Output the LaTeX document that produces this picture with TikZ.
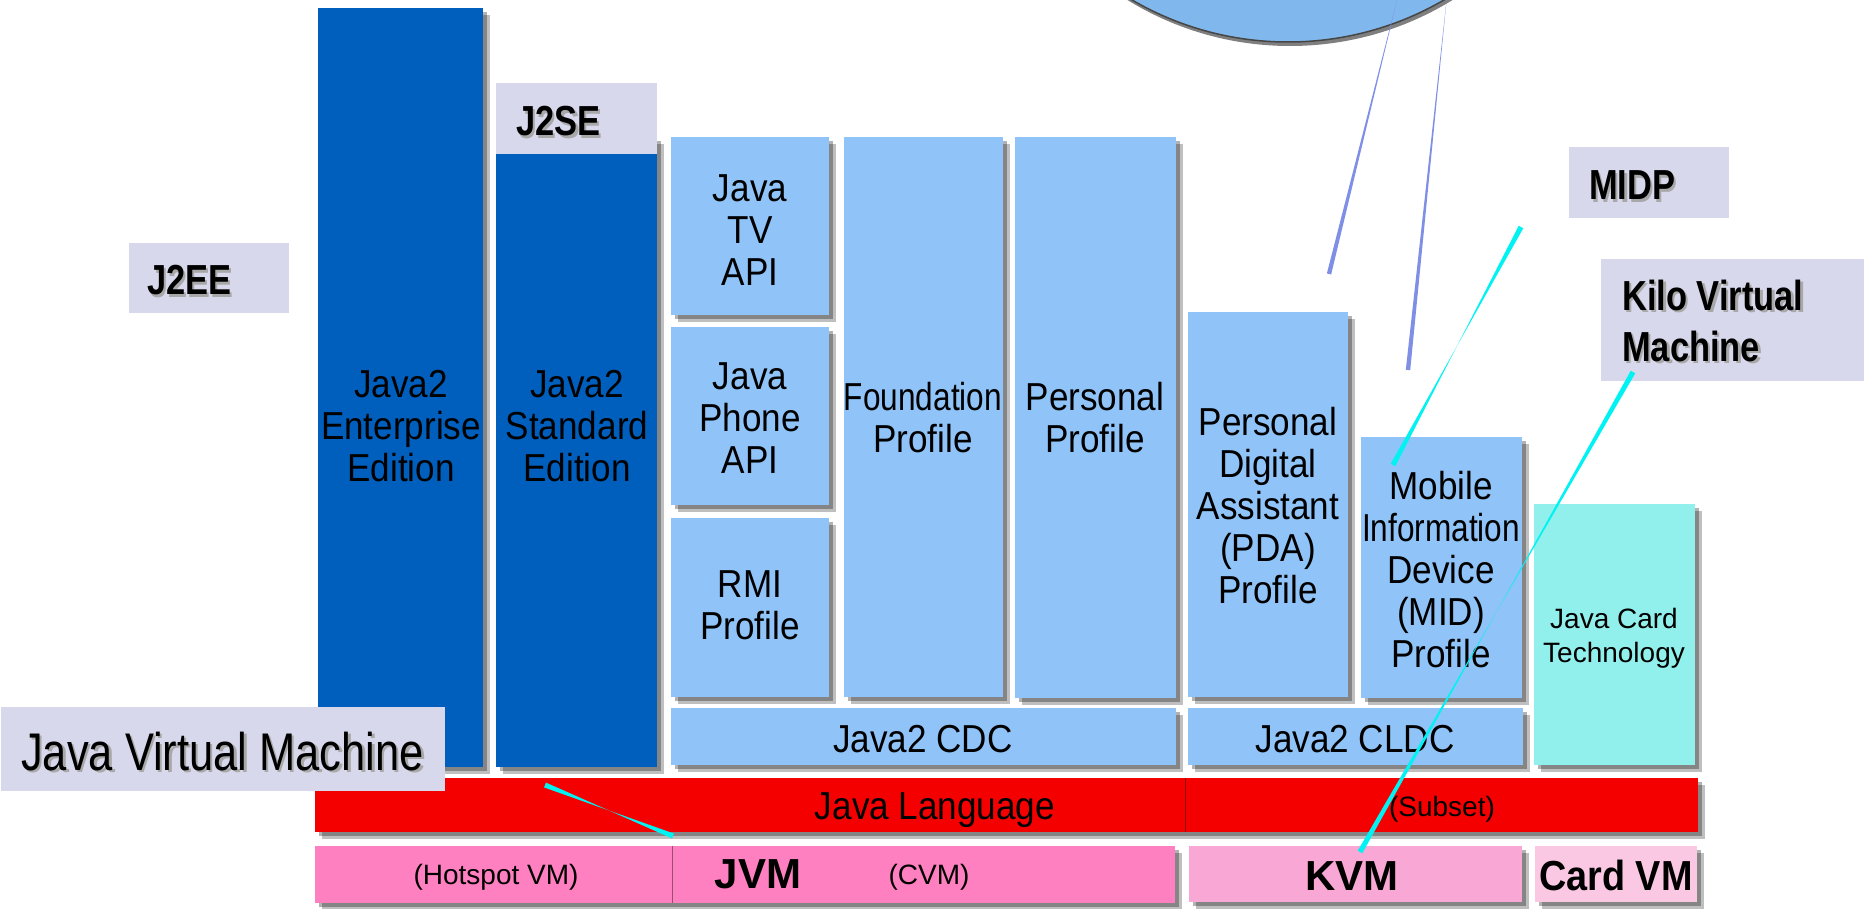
\documentclass[tikz,border=0pt]{standalone}
\usepackage{fontspec}
\usepackage{graphicx}
\setmainfont{Liberation Sans}
\newfontfamily\bodyf[FakeStretch=0.9]{Liberation Sans}
\newfontfamily\labf[FakeStretch=0.82]{Liberation Sans}
\usetikzlibrary{shadows,calc}
\definecolor{dblue}{HTML}{005FBD}
\definecolor{lblue}{HTML}{90C4F8}
\definecolor{jred}{HTML}{F50000}
\definecolor{pinkA}{HTML}{FF80C0}
\definecolor{pinkB}{HTML}{F9A8D5}
\definecolor{pinkC}{HTML}{FBC8E4}
\definecolor{jcyan}{HTML}{92F0EC}
\definecolor{lav}{HTML}{D8D8EC}
\definecolor{circfill}{HTML}{80B8EE}
\definecolor{bline}{HTML}{7F8FE6}
\definecolor{cline}{HTML}{00F2F2}
\definecolor{txsh}{HTML}{A8A8A8}
\newcommand\shd[1]{\rlap{\kern2.5pt\raisebox{-2.5pt}{\textcolor{txsh}{#1}}}#1}
\newcommand\tiewedge[4]{%
  \fill[#1] ($(#2)!#4!90:(#3)$) -- ($(#2)!#4!-90:(#3)$) -- ($(#2)!0.5!(#3)$) -- cycle;
  \fill[#1] ($(#3)!#4!90:(#2)$) -- ($(#3)!#4!-90:(#2)$) -- ($(#2)!0.5!(#3)$) -- cycle;}
\begin{document}
\begin{tikzpicture}[x=1pt,y=-1pt,
  blk/.style={anchor=north west, inner sep=0pt, outer sep=0pt, draw=none,
    drop shadow={shadow xshift=7pt, shadow yshift=-7pt, fill=black, opacity=0.25},
    drop shadow={shadow xshift=4pt, shadow yshift=-4pt, fill=black, opacity=0.3}},
  labbox/.style={anchor=north west, inner sep=0pt, outer sep=0pt, fill=lav},
  body/.style={font=\bodyf\fontsize{39}{42}\selectfont, align=center, inner sep=0pt, text=black},
  small/.style={font=\fontsize{28}{34}\selectfont, align=center, inner sep=0pt, text=black},
  vmbold/.style={font=\fontsize{42}{42}\selectfont\bfseries, inner sep=0pt, text=black},
  labtext/.style={font=\labf\fontsize{42}{51}\selectfont\bfseries, align=left, inner sep=0pt, text=black},
]
\useasboundingbox (0,0) rectangle (1864,909);
\clip (0,0) rectangle (1864,909);
\fill[white] (0,0) rectangle (1864,909);

% circle at top
\node[circle, fill=circfill, draw=gray!55!black, line width=1.5pt, minimum size=620pt, inner sep=0pt,
  drop shadow={shadow xshift=2pt, shadow yshift=-4pt, fill=black, opacity=0.5}] (circ) at (1288,-268) {};

% J2EE / J2SE bars
\node[blk, fill=dblue, minimum width=165pt, minimum height=759pt] (ee) at (318,8) {};
\node[blk, fill=dblue, minimum width=161pt, minimum height=630pt] (se) at (496,137) {};

% light blue profiles
\node[blk, fill=lblue, minimum width=158pt, minimum height=178pt] (tv) at (671,137) {};
\node[blk, fill=lblue, minimum width=158pt, minimum height=178pt] (phone) at (671,327) {};
\node[blk, fill=lblue, minimum width=158pt, minimum height=179pt] (rmi) at (671,518) {};
\node[blk, fill=lblue, minimum width=159pt, minimum height=560pt] (found) at (844,137) {};
\node[blk, fill=lblue, minimum width=161pt, minimum height=561pt] (pers) at (1015,137) {};
\node[blk, fill=lblue, minimum width=160pt, minimum height=385pt] (pda) at (1188,312) {};
\node[blk, fill=lblue, minimum width=161pt, minimum height=261pt] (mid) at (1361,437) {};
\node[blk, fill=lblue, minimum width=505pt, minimum height=57pt] (cdc) at (671,708) {};
\node[blk, fill=lblue, minimum width=335pt, minimum height=57pt] (cldc) at (1188,708) {};
\node[blk, fill=jcyan, minimum width=161pt, minimum height=261pt] (card) at (1534,504) {};

% language and VM bars
\node[blk, fill=jred, minimum width=1383pt, minimum height=54pt] (lang) at (315,778) {};
\draw[jred!60!black, line width=0.8pt] (1185,778) -- (1185,832);
\node[blk, fill=pinkA, minimum width=860pt, minimum height=57pt] (jvm) at (315,846) {};
\draw[pinkA!60!black, line width=0.8pt] (672,846) -- (672,903);
\node[blk, fill=pinkB, minimum width=333pt, minimum height=56pt] (kvm) at (1189,846) {};
\node[blk, fill=pinkC, minimum width=162pt, minimum height=56pt] (cvm) at (1535,846) {};

% texts in blocks
\node[body] (t-ee) at (401,426) {Java2\\Enterprise\\Edition};
\node[body] (t-se) at (577,426) {Java2\\Standard\\Edition};
\node[body] (t-tv) at (750,230) {Java\\TV\\API};
\node[body] (t-ph) at (750,418) {Java\\Phone\\API};
\node[body] (t-rmi) at (750,605) {RMI\\Profile};
\node[body] (t-fo) at (923,418) {\scalebox{0.9}[1]{Foundation}\\Profile};
\node[body] (t-pe) at (1095,418) {Personal\\Profile};
\node[body] (t-pda) at (1268,506) {Personal\\Digital\\Assistant\\(PDA)\\Profile};
\node[body] (t-mid) at (1441,570) {Mobile\\\scalebox{0.9}[1]{Information}\\Device\\(MID)\\Profile};
\node[body, anchor=base] (t-cdc) at (923,752) {Java2 CDC};
\node[body, anchor=base] (t-cldc) at (1355,752) {Java2 CLDC};
\node[small, font=\fontsize{28}{34}\selectfont] (t-card) at (1614,638) {Java Card\\Technology};
\node[body, anchor=base] (t-lang) at (935,819) {Java Language};
\node[small, anchor=base] (t-sub) at (1442,816) {(Subset)};
\node[small, anchor=base] (t-hot) at (496,884) {(Hotspot VM)};
\node[small, anchor=base] (t-cvm) at (929,884) {(CVM)};
\node[vmbold, anchor=base] (t-jvm) at (758,888) {JVM};
\node[vmbold, anchor=base] (t-kvm) at (1352,890) {KVM};
\node[vmbold, anchor=base] (t-cardvm) at (1616,890) {\scalebox{0.9}[1]{Card VM}};

% labels
\node[labbox, minimum width=160pt, minimum height=70pt] (l-ee) at (129,243) {};
\node[labtext, anchor=base west] (lt-ee) at (147,295) {\shd{J2EE}};
\node[labbox, minimum width=161pt, minimum height=71pt] (l-se) at (496,83) {};
\node[labtext, anchor=base west] (lt-se) at (516,136) {\shd{J2SE}};
\node[labbox, minimum width=160pt, minimum height=71pt] (l-midp) at (1569,147) {};
\node[labtext, anchor=base west] (lt-midp) at (1589,200) {\shd{MIDP}};
\node[labbox, minimum width=270pt, minimum height=122pt] (l-kvm) at (1601,259) {};
\node[labtext, anchor=west] (lt-kvm) at (1622,322) {\shd{Kilo Virtual}\\\shd{Machine}};
\node[labbox, minimum width=444pt, minimum height=84pt] (l-jvm) at (1,707) {};
\node[labtext, anchor=base west, font=\labf\fontsize{53}{53}\selectfont] (lt-jvm) at (21,770) {\shd{Java Virtual Machine}};

% pointer lines
\coordinate (b1t) at (1398,-4);
\coordinate (b1b) at (1329,274);
\coordinate (b2t) at (1447,-4);
\coordinate (b2b) at (1408,370);
\fill[bline] (b1t) -- ($(b1b)!2.2pt!90:(b1t)$) -- ($(b1b)!2.2pt!-90:(b1t)$) -- cycle;
\fill[bline] (b2t) -- ($(b2b)!2.2pt!90:(b2t)$) -- ($(b2b)!2.2pt!-90:(b2t)$) -- cycle;

\coordinate (m1) at (1521,227);
\coordinate (m2) at (1393,465);
\tiewedge{cline}{m1}{m2}{2.6pt}
\coordinate (k1) at (1633,372);
\coordinate (k2) at (1360,852);
\tiewedge{cline}{k1}{k2}{2.6pt}
\coordinate (j1) at (545,785);
\coordinate (j2) at (673,836);
\tiewedge{cline}{j1}{j2}{2.6pt}
\end{tikzpicture}
\end{document}
